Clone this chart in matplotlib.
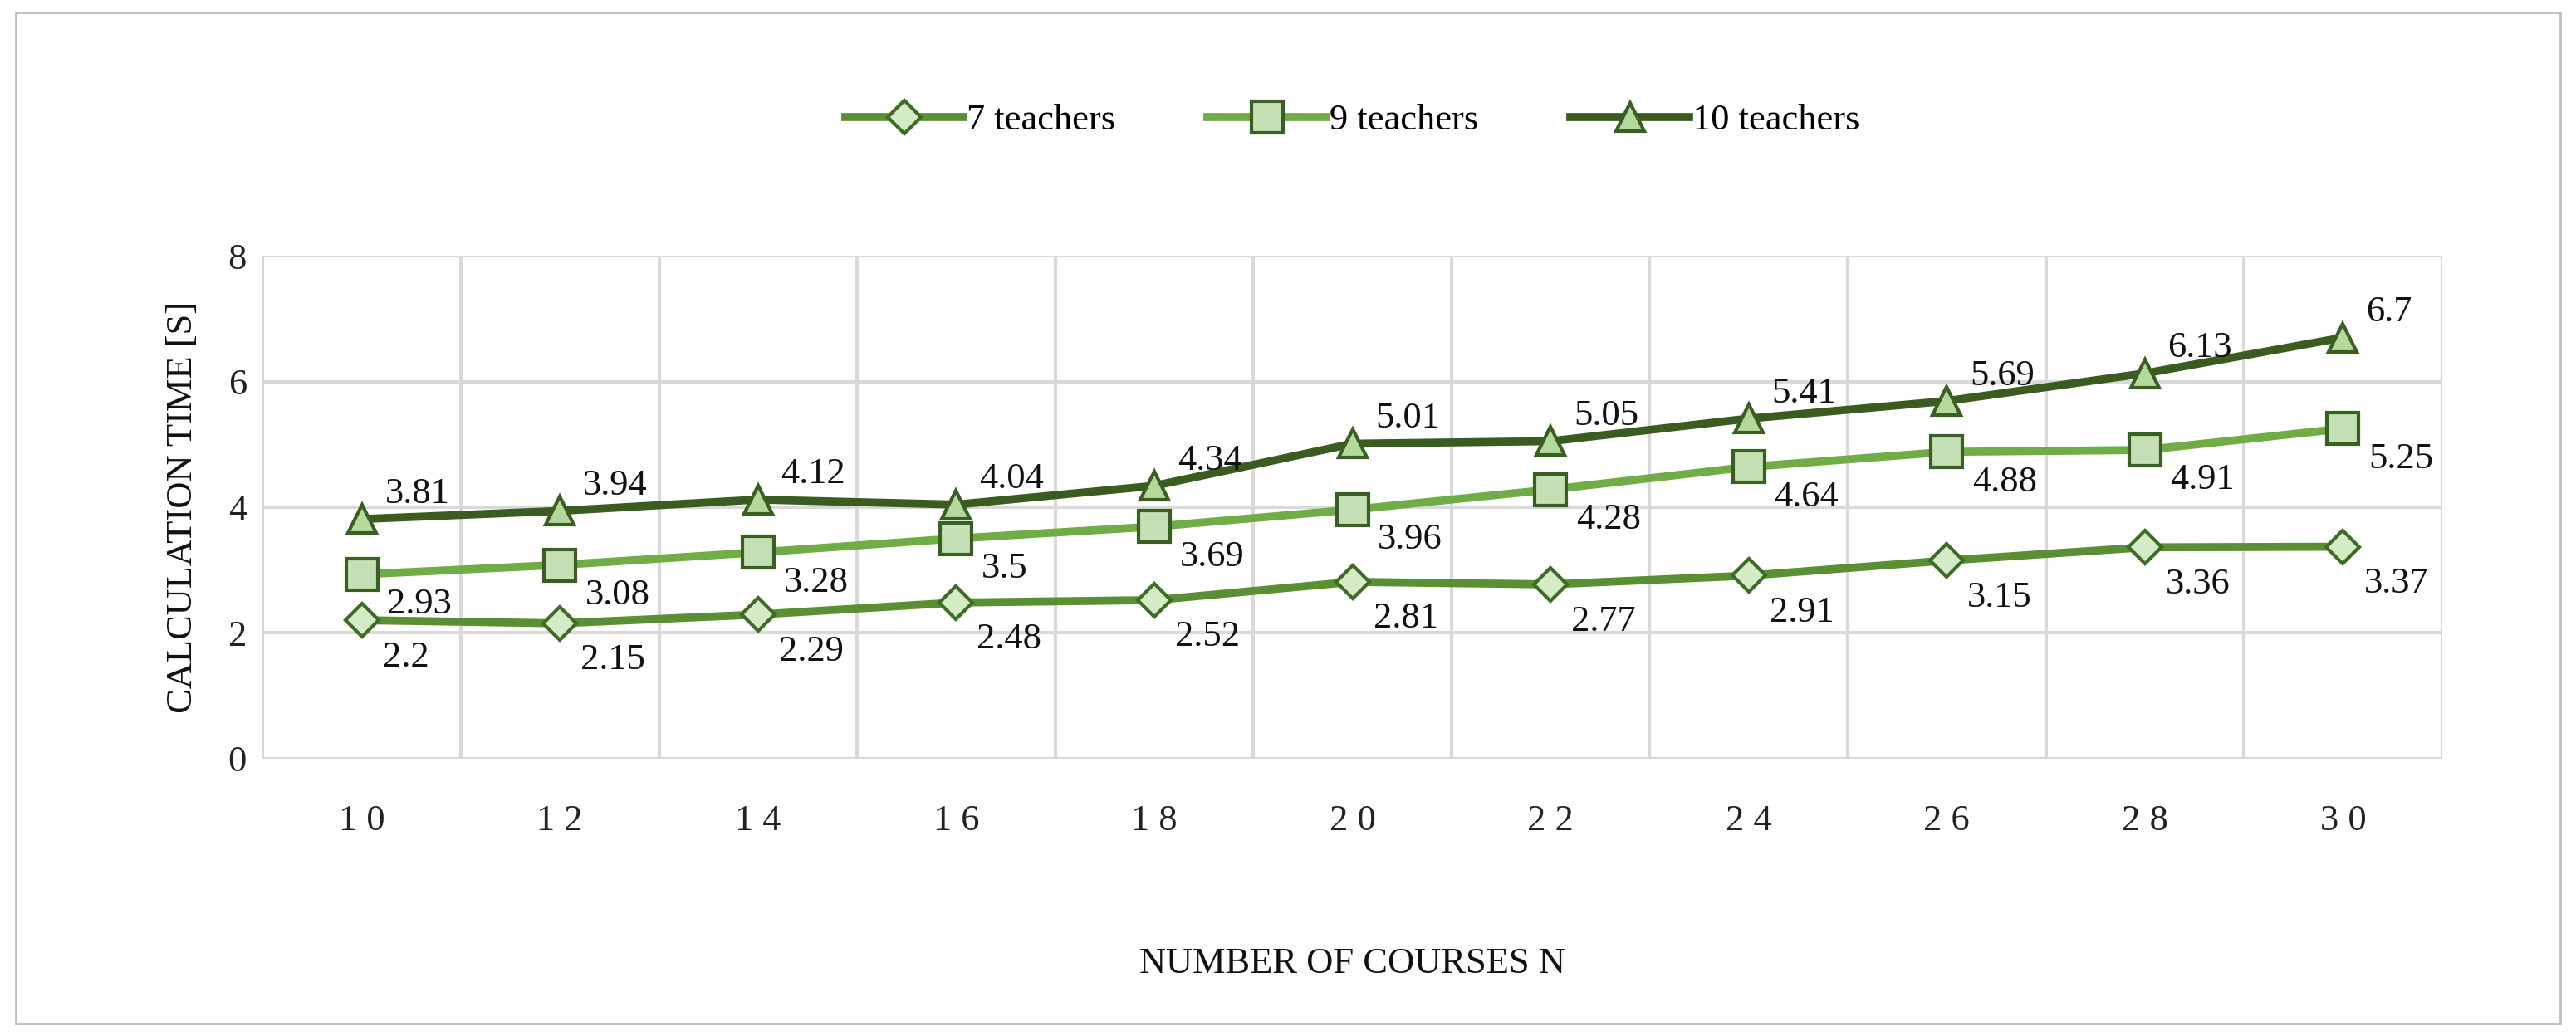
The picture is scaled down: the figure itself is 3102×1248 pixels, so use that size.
import matplotlib.pyplot as plt
from matplotlib.patches import Rectangle

courses = [10, 12, 14, 16, 18, 20, 22, 24, 26, 28, 30]
t7 = [2.2, 2.15, 2.29, 2.48, 2.52, 2.81, 2.77, 2.91, 3.15, 3.36, 3.37]
t9 = [2.93, 3.08, 3.28, 3.5, 3.69, 3.96, 4.28, 4.64, 4.88, 4.91, 5.25]
t10 = [3.81, 3.94, 4.12, 4.04, 4.34, 5.01, 5.05, 5.41, 5.69, 6.13, 6.7]
tick_labels = [" ".join(str(c)) for c in courses]

plt.rcParams['font.family'] = ['Liberation Serif', 'DejaVu Serif']
fs = 32

fig = plt.figure(figsize=(31.02, 12.48), dpi=100)
fig.patches.append(Rectangle((0.006, 0.012), 0.988, 0.976, transform=fig.transFigure,
                             fill=False, edgecolor='#BFBFBF', linewidth=2))
ax = fig.add_axes([0.102, 0.268, 0.846, 0.485])

series = [
    (t7, '7 teachers', '#5A8F33', 'D', '#D5EBC6', '#3E6B25', 20, (18, -40)),
    (t9, '9 teachers', '#70AD47', 's', '#C5E0B4', '#3A5F22', 28, (22, -34)),
    (t10, '10 teachers', '#3B5C21', '^', '#B5D99C', '#3A5F22', 24, (20, 14)),
]
for vals, name, col, mk, fc, ec, ms, off in series:
    ax.plot(courses, vals, color=col, lw=7, marker=mk, markersize=ms,
            markerfacecolor=fc, markeredgecolor=ec, markeredgewidth=3, label=name, zorder=3)
    for x, v in zip(courses, vals):
        ax.annotate(f"{v:g}", (x, v), xytext=off, textcoords='offset points',
                    fontsize=fs, color='#111111', zorder=4)

ax.set_xlim(9, 31)
ax.set_ylim(0, 8)
ax.set_yticks([0, 2, 4, 6, 8])
ax.set_xticks(courses)
ax.set_xticklabels(tick_labels)
ax.set_xticks(range(9, 32, 2), minor=True)
ax.grid(False)
ax.grid(True, which='minor', axis='x', color='#D9D9D9', lw=3)
ax.grid(True, which='major', axis='y', color='#D9D9D9', lw=3)
ax.set_axisbelow(True)
for s in ax.spines.values():
    s.set_visible(False)
ax.tick_params(which='both', length=0, labelsize=fs, colors='#222222', pad=14)
ax.tick_params(axis='x', pad=40)
ax.set_ylabel('CALCULATION TIME [S]', fontsize=fs, color='#111111', labelpad=25)
ax.set_xlabel('NUMBER OF COURSES N', fontsize=fs, color='#111111', labelpad=95)
ax.legend(loc='lower center', bbox_to_anchor=(0.5, 1.17), ncol=3, frameon=False,
          fontsize=fs, handlelength=3.2, columnspacing=2.5, handletextpad=0.1)

fig.savefig('out.png', dpi=100)
